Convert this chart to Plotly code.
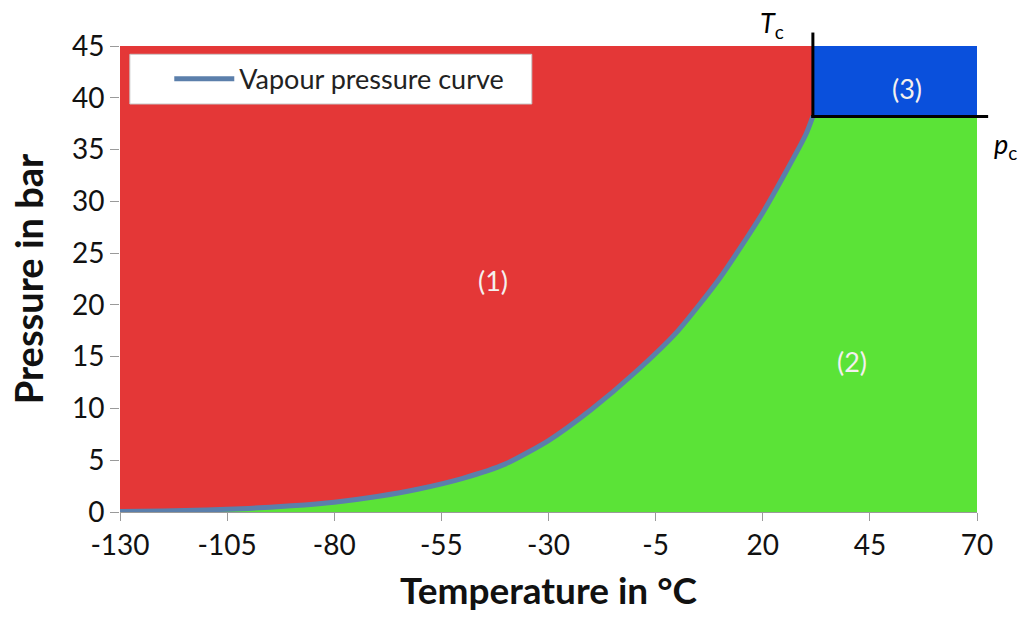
import plotly.graph_objects as go

# Vapour pressure curve (temperature in °C, pressure in bar)
temperature = [-130, -120, -110, -100, -90, -80, -70, -60, -50, -40, -30, -20, -10, 0, 10, 20, 30, 31.7]
pressure = [0.05, 0.1, 0.2, 0.35, 0.6, 0.95, 1.5, 2.25, 3.25, 4.65, 6.9, 9.9, 13.4, 17.4, 22.6, 28.9, 36.4, 38.2]

# Critical point
t_crit = 31.7
p_crit = 38.2

x_range = [-130, 70]
y_range = [0, 45]
x_ticks = [-130, -105, -80, -55, -30, -5, 20, 45, 70]
x_tick_text = ["-130", "-105", "-80", "-55", "-30", "-5", "20", "45", "70"]
y_ticks = [0, 5, 10, 15, 20, 25, 30, 35, 40, 45]

region_labels = ["(1)", "(2)", "(3)"]
region_pos = [(-43, 22.4), (40.8, 14.5), (53.7, 40.9)]

RED = "#e43737"
GREEN = "#5be337"
BLUE = "#0a50dc"
CURVE = "#5b7fab"
FONT = "Lato"

x0, x1 = x_range
y0, y1 = y_range

fig = go.Figure()

# (1) region above the curve
fig.add_trace(go.Scatter(
    x=[x0] + temperature + [t_crit, x0],
    y=[y1] + pressure + [y1, y1],
    fill="toself", fillcolor=RED, mode="lines", line=dict(width=0, shape="spline", smoothing=0.6),
    showlegend=False, hoverinfo="skip"))

# (2) region below the curve and below the critical pressure
fig.add_trace(go.Scatter(
    x=[x0] + temperature + [x1, x1, x0],
    y=[y0] + pressure + [p_crit, y0, y0],
    fill="toself", fillcolor=GREEN, mode="lines", line=dict(width=0),
    showlegend=False, hoverinfo="skip"))

# (3) supercritical region
fig.add_trace(go.Scatter(
    x=[t_crit, x1, x1, t_crit, t_crit],
    y=[p_crit, p_crit, y1, y1, p_crit],
    fill="toself", fillcolor=BLUE, mode="none", showlegend=False, hoverinfo="skip"))

fig.add_trace(go.Scatter(
    x=temperature, y=pressure, mode="lines",
    line=dict(color=CURVE, width=5, shape="spline", smoothing=0.6),
    name="Vapour pressure curve"))


def px(x):
    return (x - x0) / (x1 - x0)


def py(y):
    return (y - y0) / (y1 - y0)


# Critical isotherm / isobar markers, extending past the plot frame
fig.add_shape(type="line", xref="paper", yref="paper",
              x0=px(t_crit), x1=px(t_crit), y0=py(p_crit), y1=py(y1 + 1.3),
              line=dict(color="black", width=3))
fig.add_shape(type="line", xref="paper", yref="paper",
              x0=px(t_crit) - 0.002, x1=px(x1 + 2.6), y0=py(p_crit), y1=py(p_crit),
              line=dict(color="black", width=3))

fig.add_annotation(xref="paper", yref="paper", x=px(t_crit) - 0.031, y=py(y1 + 2.1),
                   text="<i>T</i><sub>c</sub>", showarrow=False, xanchor="right", yanchor="middle",
                   font=dict(family=FONT, size=27, color="black"))
fig.add_annotation(xref="paper", yref="paper", x=px(x1 + 3.6), y=py(p_crit - 2.8),
                   text="<i>p</i><sub>c</sub>", showarrow=False, xanchor="left", yanchor="middle",
                   font=dict(family=FONT, size=27, color="black"))

for label, (lx, ly) in zip(region_labels, region_pos):
    fig.add_annotation(x=lx, y=ly, text=label, showarrow=False,
                       font=dict(family=FONT, size=27, color="#f4f0ee"))

# Legend frame
fig.add_shape(type="rect", xref="paper", yref="paper", layer="above",
              x0=px(-127.7), x1=px(-33.9), y0=py(39.4), y1=py(44.2),
              fillcolor="white", line=dict(color="#c8c8c8", width=1))

fig.update_layout(
    width=1022, height=617,
    margin=dict(l=120, r=45, t=46, b=105),
    paper_bgcolor="white", plot_bgcolor="white",
    font=dict(family=FONT, color="#1a1a1a"),
    legend=dict(
        x=px(-118.5), y=py(41.8), xanchor="left", yanchor="middle",
        bgcolor="rgba(0,0,0,0)", borderwidth=0,
        font=dict(family=FONT, size=27, color="#222222"),
        itemwidth=60,
    ),
    xaxis=dict(
        range=x_range, tickvals=x_ticks, ticktext=x_tick_text,
        showgrid=False, zeroline=False, showline=True, linecolor="#9a9a9a", linewidth=1,
        ticks="outside", ticklen=8, tickcolor="#9a9a9a",
        tickfont=dict(family=FONT, size=28, color="#111111"),
        title=dict(text="<b>Temperature in °C</b>", font=dict(family=FONT, size=37, color="#111111"),
                   standoff=18),
    ),
    yaxis=dict(
        range=y_range, tickvals=y_ticks,
        showgrid=False, zeroline=False, showline=False,
        ticks="outside", ticklen=9, tickcolor="#9a9a9a",
        tickfont=dict(family=FONT, size=28, color="#111111"),
        title=dict(text="<b>Pressure in bar</b>", font=dict(family=FONT, size=38, color="#111111"),
                   standoff=16),
    ),
)

fig.write_html("out.html")
